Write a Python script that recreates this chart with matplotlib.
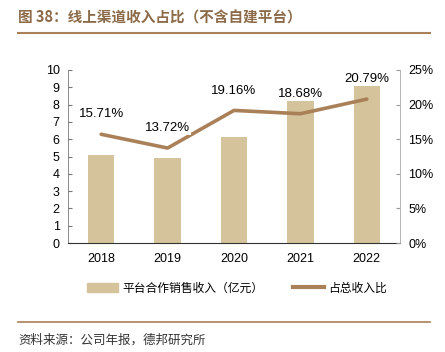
import matplotlib
matplotlib.use('Agg')
import matplotlib.pyplot as plt
import numpy as np
from matplotlib.lines import Line2D
from matplotlib.patches import Patch

plt.rcParams['font.family'] = ['Liberation Sans', 'Noto Sans CJK SC', 'DejaVu Sans']

years = ['2018', '2019', '2020', '2021', '2022']
sales = [5.1, 4.9, 6.1, 8.8, 9.1]          # 平台合作销售收入（亿元）
share = [15.71, 13.72, 19.16, 18.68, 20.79]  # 占总收入比 (%)

bar_color = '#D4C39B'
line_color = '#A98058'
brown = '#8C6A48'

fig = plt.figure(figsize=(4.45, 3.52), dpi=100)
ax = fig.add_axes([68/445, 1 - 243/352, 332/445, 173/352])
x = np.arange(len(years))
ax.bar(x, sales, width=0.4, color=bar_color, zorder=1)
ax.set_xlim(-0.5, 4.5)
ax.set_ylim(0, 10)
ax.set_yticks(range(0, 11))
ax.set_xticks(x)
ax.set_xticklabels(years)
ax.tick_params(axis='x', length=0, labelsize=9, pad=7)
ax.tick_params(axis='y', direction='in', length=3, labelsize=9, color='#777777', pad=6)
for s in ['top', 'right']:
    ax.spines[s].set_visible(False)
ax.spines['left'].set_color('#777777')
ax.spines['left'].set_linewidth(0.6)
ax.spines['bottom'].set_color('#333333')
ax.spines['bottom'].set_linewidth(0.8)

ax2 = ax.twinx()
ax2.plot(x, share, color=line_color, linewidth=2.6, solid_capstyle='round', zorder=3)
ax2.set_ylim(0, 25)
ax2.set_yticks(range(0, 26, 5))
ax2.set_yticklabels([f'{v}%' for v in range(0, 26, 5)])
ax2.tick_params(axis='y', direction='in', length=3, labelsize=9, color='#999999', pad=6)
for s in ['top', 'left', 'bottom']:
    ax2.spines[s].set_visible(False)
ax2.spines['right'].set_color('#AAAAAA')
ax2.spines['right'].set_linewidth(0.6)
for xi, v in zip(x, share):
    ax2.annotate(f'{v:.2f}%', (xi, v), xytext=(0, 10), textcoords='offset points',
                 ha='center', va='bottom', fontsize=9.5,
                 bbox=dict(boxstyle='square,pad=0.05', fc='white', ec='none'))

handles = [Patch(color=bar_color), Line2D([0], [0], color=line_color, linewidth=3)]
fig.legend(handles, ['平台合作销售收入（亿元）', '占总收入比'], loc='center',
           bbox_to_anchor=(237/445, 1 - 288/352), ncol=2, frameon=False,
           handlelength=2.6, handletextpad=0.4, columnspacing=2.5,
           prop={'family': ['Noto Sans CJK SC'], 'size': 8.5})

fig.text(18/445, 1 - 18/352, '图 38：线上渠道收入占比（不含自建平台）', fontsize=10.5,
         color=brown, fontweight='bold', va='center', family=['Noto Sans CJK SC'])
fig.add_artist(Line2D([18/445, 430/445], [1 - 33/352, 1 - 33/352], color='#A98058', linewidth=1.5))
fig.add_artist(Line2D([18/445, 430/445], [1 - 322/352, 1 - 322/352], color='#A98058', linewidth=1.2))
fig.text(18/445, 1 - 340/352, '资料来源：公司年报，德邦研究所', fontsize=9,
         color='#333333', va='center', family=['Noto Sans CJK SC'])

fig.savefig('out.png', dpi=100)
